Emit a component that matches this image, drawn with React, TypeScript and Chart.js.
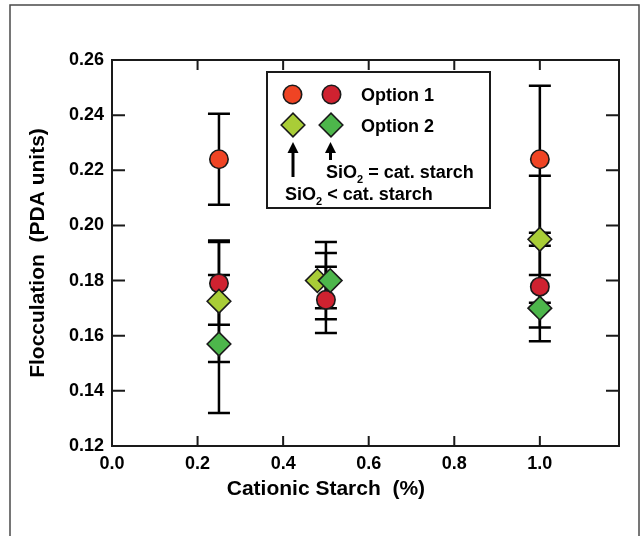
import React, { useEffect, useRef } from "react";
import { Chart, registerables } from "chart.js";

Chart.register(...registerables);

// ---- data ----
// Option 1, SiO2 < cat. starch (orange circles)
const opt1LowX = [0.25, 1.0];
const opt1LowY = [0.224, 0.224];
const opt1LowErr = [0.0165, 0.0267];
const opt1LowErrX = [0.25, 1.0];
// Option 1, SiO2 = cat. starch (dark red circles)
const opt1EqX = [0.25, 0.5, 1.0];
const opt1EqY = [0.179, 0.173, 0.1778];
const opt1EqErr = [0.015, 0.012, 0.0148];
const opt1EqErrX = [0.25, 0.5, 1.0];
// Option 2, SiO2 < cat. starch (light green diamonds)
const opt2LowX = [0.25, 0.48, 1.0];
const opt2LowY = [0.1725, 0.18, 0.195];
const opt2LowErr = [0.022, 0.014, 0.023];
const opt2LowErrX = [0.25, 0.5, 1.0];
// Option 2, SiO2 = cat. starch (green diamonds)
const opt2EqX = [0.25, 0.51, 1.0];
const opt2EqY = [0.157, 0.18, 0.17];
const opt2EqErr = [0.025, 0.01, 0.012];
const opt2EqErrX = [0.25, 0.5, 1.0];

const xTickLabels = ["0.0", "0.2", "0.4", "0.6", "0.8", "1.0"];
const yTickLabels = ["0.12", "0.14", "0.16", "0.18", "0.20", "0.22", "0.24", "0.26"];

const xTitle = "Cationic Starch  (%)";
const yTitle = "Flocculation  (PDA units)";
const legendOpt1 = "Option 1";
const legendOpt2 = "Option 2";
const noteEq = " = cat. starch";
const noteLow = " < cat. starch";

const COL_ORANGE = "#EF4424";
const COL_DARKRED = "#CF2230";
const COL_LIGHTGREEN = "#A9CD37";
const COL_GREEN = "#4DB64B";
const EDGE = "#1a1a1a";
const FONT = "'Liberation Sans', Arial, Helvetica, sans-serif";

const CIRCLE_R = 9.2;
const DIAMOND_R = 11.8;

const errorSeries = [
  { x: opt1LowErrX, y: opt1LowY, e: opt1LowErr },
  { x: opt1EqErrX, y: opt1EqY, e: opt1EqErr },
  { x: opt2LowErrX, y: opt2LowY, e: opt2LowErr },
  { x: opt2EqErrX, y: opt2EqY, e: opt2EqErr },
];

function drawMarker(ctx: CanvasRenderingContext2D, style: string, x: number, y: number, fill: string) {
  ctx.save();
  ctx.beginPath();
  if (style === "circle") {
    ctx.arc(x, y, CIRCLE_R, 0, Math.PI * 2);
  } else {
    ctx.moveTo(x - DIAMOND_R, y);
    ctx.lineTo(x, y - DIAMOND_R);
    ctx.lineTo(x + DIAMOND_R, y);
    ctx.lineTo(x, y + DIAMOND_R);
    ctx.closePath();
  }
  ctx.fillStyle = fill;
  ctx.fill();
  ctx.lineWidth = 1.6;
  ctx.strokeStyle = EDGE;
  ctx.stroke();
  ctx.restore();
}

function drawArrow(ctx: CanvasRenderingContext2D, x: number, yTail: number, yTip: number) {
  ctx.save();
  ctx.strokeStyle = "#000";
  ctx.fillStyle = "#000";
  ctx.lineWidth = 3;
  ctx.beginPath();
  ctx.moveTo(x, yTail);
  ctx.lineTo(x, yTip + 9);
  ctx.stroke();
  ctx.beginPath();
  ctx.moveTo(x, yTip);
  ctx.lineTo(x - 5.5, yTip + 11);
  ctx.lineTo(x + 5.5, yTip + 11);
  ctx.closePath();
  ctx.fill();
  ctx.restore();
}

function drawSiO2(ctx: CanvasRenderingContext2D, x: number, y: number, rest: string) {
  ctx.save();
  ctx.fillStyle = "#000";
  ctx.textAlign = "left";
  ctx.textBaseline = "alphabetic";
  ctx.font = `bold 18px ${FONT}`;
  ctx.fillText("SiO", x, y);
  let w = ctx.measureText("SiO").width;
  ctx.font = `bold 11px ${FONT}`;
  ctx.fillText("2", x + w, y + 5);
  w += ctx.measureText("2").width;
  ctx.font = `bold 18px ${FONT}`;
  ctx.fillText(rest, x + w, y);
  ctx.restore();
}

const framePlugin = {
  id: "frameBg",
  beforeDraw(chart: any) {
    const ctx = chart.ctx as CanvasRenderingContext2D;
    ctx.save();
    ctx.fillStyle = "#ffffff";
    ctx.fillRect(0, 0, chart.width, chart.height);
    ctx.strokeStyle = "#4a4a4a";
    ctx.lineWidth = 1.5;
    ctx.strokeRect(10, 5, 629, 620);
    ctx.restore();
  },
};

const errorBarPlugin = {
  id: "errorBars",
  beforeDatasetsDraw(chart: any) {
    const ctx = chart.ctx as CanvasRenderingContext2D;
    const xs = chart.scales.x;
    const ys = chart.scales.y;
    ctx.save();
    ctx.strokeStyle = "#000";
    ctx.lineWidth = 2.5;
    ctx.lineCap = "butt";
    const cap = 11;
    for (const s of errorSeries) {
      for (let i = 0; i < s.x.length; i++) {
        const px = xs.getPixelForValue(s.x[i]);
        const top = ys.getPixelForValue(s.y[i] + s.e[i]);
        const bot = ys.getPixelForValue(s.y[i] - s.e[i]);
        ctx.beginPath();
        ctx.moveTo(px, top);
        ctx.lineTo(px, bot);
        ctx.moveTo(px - cap, top);
        ctx.lineTo(px + cap, top);
        ctx.moveTo(px - cap, bot);
        ctx.lineTo(px + cap, bot);
        ctx.stroke();
      }
    }
    ctx.restore();
  },
};

const axesPlugin = {
  id: "axesDecor",
  afterDraw(chart: any) {
    const ctx = chart.ctx as CanvasRenderingContext2D;
    const { left, right, top, bottom } = chart.chartArea;
    const xs = chart.scales.x;
    const ys = chart.scales.y;
    ctx.save();
    ctx.strokeStyle = "#1a1a1a";
    ctx.lineWidth = 2;
    ctx.strokeRect(left, top, right - left, bottom - top);
    ctx.beginPath();
    for (const t of ys.ticks) {
      const py = ys.getPixelForValue(t.value);
      ctx.moveTo(left, py);
      ctx.lineTo(left + 13, py);
      ctx.moveTo(right, py);
      ctx.lineTo(right - 13, py);
    }
    for (const t of xs.ticks) {
      const px = xs.getPixelForValue(t.value);
      ctx.moveTo(px, bottom);
      ctx.lineTo(px, bottom - 10);
      ctx.moveTo(px, top);
      ctx.lineTo(px, top + 10);
    }
    ctx.stroke();

    // axis titles
    ctx.fillStyle = "#000";
    ctx.font = `bold 21px ${FONT}`;
    ctx.textAlign = "center";
    ctx.textBaseline = "alphabetic";
    ctx.fillText(xTitle, xs.getPixelForValue(0.5), 495);
    ctx.save();
    ctx.translate(43.5, (top + bottom) / 2);
    ctx.rotate(-Math.PI / 2);
    ctx.fillText(yTitle, 0, 0);
    ctx.restore();

    // legend box
    ctx.lineWidth = 2;
    ctx.strokeStyle = "#1a1a1a";
    ctx.strokeRect(267, 72, 223, 136);
    drawMarker(ctx, "circle", 292.5, 94.5, COL_ORANGE);
    drawMarker(ctx, "circle", 331.5, 94.5, COL_DARKRED);
    drawMarker(ctx, "diamond", 293, 125, COL_LIGHTGREEN);
    drawMarker(ctx, "diamond", 331, 125, COL_GREEN);
    ctx.fillStyle = "#000";
    ctx.font = `bold 18px ${FONT}`;
    ctx.textAlign = "left";
    ctx.fillText(legendOpt1, 361, 100.5);
    ctx.fillText(legendOpt2, 361, 131.5);
    drawArrow(ctx, 293, 177, 142);
    drawArrow(ctx, 330.5, 160, 142);
    drawSiO2(ctx, 326, 178, noteEq);
    drawSiO2(ctx, 285, 200, noteLow);
    ctx.restore();
  },
};

function pts(xs: number[], ys: number[]) {
  return xs.map((x, i) => ({ x, y: ys[i] }));
}

export default function App() {
  const ref = useRef<HTMLCanvasElement | null>(null);
  useEffect(() => {
    if (!ref.current) return;
    const tickFont = { size: 18, weight: "bold" as const, family: FONT };
    const chart = new Chart(ref.current, {
      type: "scatter",
      data: {
        datasets: [
          {
            label: "Option 2, SiO2 = cat. starch",
            data: pts(opt2EqX, opt2EqY),
            pointStyle: "rectRot",
            pointRadius: DIAMOND_R,
            pointBackgroundColor: COL_GREEN,
            pointBorderColor: EDGE,
            pointBorderWidth: 1.6,
          },
          {
            label: "Option 2, SiO2 < cat. starch",
            data: pts(opt2LowX, opt2LowY),
            pointStyle: "rectRot",
            pointRadius: DIAMOND_R,
            pointBackgroundColor: COL_LIGHTGREEN,
            pointBorderColor: EDGE,
            pointBorderWidth: 1.6,
          },
          {
            label: "Option 1, SiO2 = cat. starch",
            data: pts(opt1EqX, opt1EqY),
            pointStyle: "circle",
            pointRadius: CIRCLE_R,
            pointBackgroundColor: COL_DARKRED,
            pointBorderColor: EDGE,
            pointBorderWidth: 1.6,
          },
          {
            label: "Option 1, SiO2 < cat. starch",
            data: pts(opt1LowX, opt1LowY),
            pointStyle: "circle",
            pointRadius: CIRCLE_R,
            pointBackgroundColor: COL_ORANGE,
            pointBorderColor: EDGE,
            pointBorderWidth: 1.6,
          },
        ],
      },
      options: {
        animation: false,
        responsive: false,
        devicePixelRatio: 1,
        layout: { padding: { left: 0, top: 60, right: 24, bottom: 0 } },
        plugins: { legend: { display: false }, tooltip: { enabled: false } },
        scales: {
          x: {
            type: "linear",
            position: "bottom",
            min: 0,
            max: 1.185,
            grid: { display: false, drawTicks: false },
            border: { display: false },
            ticks: {
              stepSize: 0.2,
              includeBounds: false,
              maxRotation: 0,
              autoSkip: false,
              padding: 7,
              color: "#000",
              font: tickFont,
              callback: (v: any) => {
                const i = Math.round(Number(v) / 0.2);
                return xTickLabels[i] ?? "";
              },
            },
            afterFit: (scale: any) => {
              scale.height = 90;
            },
          },
          y: {
            type: "linear",
            position: "left",
            min: 0.12,
            max: 0.26,
            grid: { display: false, drawTicks: false },
            border: { display: false },
            ticks: {
              stepSize: 0.02,
              padding: 8,
              autoSkip: false,
              color: "#000",
              font: tickFont,
              callback: (v: any) => {
                const i = Math.round((Number(v) - 0.12) / 0.02);
                return yTickLabels[i] ?? "";
              },
            },
            afterFit: (scale: any) => {
              scale.width = 112;
            },
          },
        },
      },
      plugins: [framePlugin, errorBarPlugin, axesPlugin],
    });
    return () => chart.destroy();
  }, []);
  return (
    <div style={{ position: "absolute", left: 0, top: 0, width: 643, height: 536 }}>
      <canvas ref={ref} width={643} height={536} style={{ display: "block" }} />
    </div>
  );
}
